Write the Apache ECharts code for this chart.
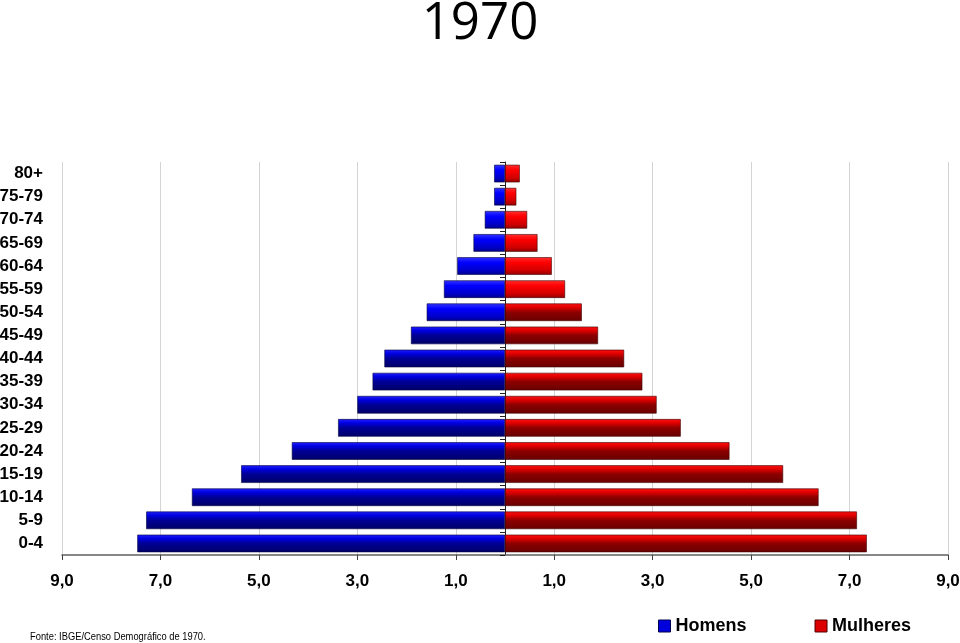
<!DOCTYPE html>
<html>
<head>
<meta charset="utf-8">
<script src="https://cdn.jsdelivr.net/npm/echarts@6/dist/echarts.min.js"></script>
<style>html,body{margin:0;padding:0;background:#fff;}#c{width:960px;height:643px;}</style>
</head>
<body>
<div id="c"></div>
<script>
const categories = ['0-4','5-9','10-14','15-19','20-24','25-29','30-34','35-39','40-44','45-49','50-54','55-59','60-64','65-69','70-74','75-79','80+'];
const homens = [7.47, 7.29, 6.36, 5.36, 4.33, 3.39, 3.00, 2.69, 2.45, 1.91, 1.59, 1.24, 0.97, 0.64, 0.41, 0.22, 0.22];
const mulheres = [7.35, 7.15, 6.37, 5.65, 4.56, 3.57, 3.08, 2.79, 2.42, 1.89, 1.56, 1.22, 0.95, 0.66, 0.45, 0.23, 0.30];
const xTicks = {min: -9, max: 9, interval: 2};
const titleText = '1970';
const sourceText = 'Fonte: IBGE/Censo Demográfico de 1970.';

function grad(stops) {
  return new echarts.graphic.LinearGradient(0, 0, 0, 1, stops.map(c => ({offset: c[0], color: c[1]})));
}
const blueBright = grad([[0,'#3535ff'],[0.3,'#0000ff'],[0.75,'#0000c8'],[1,'#00008c']]);
const blueDark = grad([[0,'#2020ff'],[0.22,'#0000e0'],[0.5,'#000095'],[1,'#000068']]);
const redBright = grad([[0,'#ff3030'],[0.3,'#ff0000'],[0.75,'#d00000'],[1,'#900000']]);
const redDark = grad([[0,'#ff1010'],[0.22,'#e00000'],[0.5,'#8c0000'],[1,'#680000']]);

const chart = echarts.init(document.getElementById('c'), null, {renderer: 'canvas'});
const fmt = v => Math.abs(v).toFixed(1).replace('.', ',');

chart.setOption({
  backgroundColor: '#ffffff',
  animation: false,
  title: {
    text: titleText, left: 'center', top: -6,
    textStyle: {fontFamily: 'Open Sans', fontSize: 51, fontWeight: 'normal', color: '#000'}
  },
  graphic: [{
    type: 'text', left: 30, top: 631, scaleX: 0.85,
    style: {text: sourceText, fontFamily: 'Liberation Sans, Arial', fontSize: 11, fill: '#000'}
  }],
  legend: {
    left: 658, top: 617, padding: 0,
    itemWidth: 12, itemHeight: 12, itemGap: 68,
    icon: 'rect',
    textStyle: {fontFamily: 'Liberation Sans, Arial', fontSize: 18, fontWeight: 'bold', color: '#000'},
    data: [
      {name: 'Homens', itemStyle: {color: '#0000dd', borderColor: '#000050', borderWidth: 1}},
      {name: 'Mulheres', itemStyle: {color: '#dd0000', borderColor: '#500000', borderWidth: 1}}
    ]
  },
  grid: {left: 62, right: 12, top: 162, bottom: 88, containLabel: false, outerBoundsMode: 'none'},
  xAxis: {
    type: 'value', min: xTicks.min, max: xTicks.max, interval: xTicks.interval,
    axisLine: {show: true, onZero: false, lineStyle: {color: '#606060', width: 1.5}},
    axisTick: {show: true, length: 5, lineStyle: {color: '#404040'}},
    splitLine: {show: true, lineStyle: {color: '#d4d4d4', width: 1}},
    axisLabel: {
      formatter: fmt, margin: 18, showMinLabel: true, showMaxLabel: true,
      fontFamily: 'Liberation Sans, Arial', fontSize: 17, fontWeight: 'bold', color: '#000'
    }
  },
  yAxis: [{
    type: 'category', data: categories,
    axisLine: {show: false, onZero: false},
    axisTick: {show: false},
    axisLabel: {margin: 19, fontFamily: 'Liberation Sans, Arial', fontSize: 17, fontWeight: 'bold', color: '#000'}
  }, {
    type: 'category', data: categories, position: 'left',
    axisLine: {show: true, onZero: true, lineStyle: {color: '#202020', width: 1}},
    axisTick: {show: true, length: 5, inside: false, lineStyle: {color: '#202020'}},
    axisLabel: {show: false},
    splitLine: {show: false}
  }],
  series: [{
    name: 'Homens', type: 'bar', yAxisIndex: 0,
    barWidth: '76%', barGap: '-100%',
    data: homens.map((v, i) => ({value: -v, itemStyle: {color: i >= 10 ? blueBright : blueDark}})),
    itemStyle: {borderColor: '#000040', borderWidth: 0.6}
  }, {
    name: 'Mulheres', type: 'bar', yAxisIndex: 0,
    barWidth: '76%', barGap: '-100%',
    data: mulheres.map((v, i) => ({value: v, itemStyle: {color: i >= 11 ? redBright : redDark}})),
    itemStyle: {borderColor: '#400000', borderWidth: 0.6}
  }]
});
</script>
</body>
</html>
